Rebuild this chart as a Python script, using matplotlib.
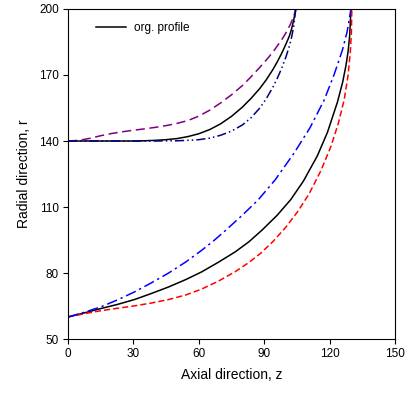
import numpy as np
import matplotlib
matplotlib.use('Agg')
import matplotlib.pyplot as plt

plt.rcParams['font.family'] = ['Liberation Sans', 'DejaVu Sans']

# profiles (z = axial, r = radial)
# upper group, starting at r = 140
org_up_z = [0, 10, 20, 30, 35, 40, 45, 50, 55, 60, 65, 70, 75, 80, 84, 88, 91, 94, 96, 98, 100, 101.5, 102.5, 103.5, 104.5]
org_up_r = [140, 140, 140, 140, 140.1, 140.3, 140.6, 141.1, 142, 143.3, 145.2, 147.8, 151.2, 155.4, 159.4, 163.9, 167.9, 172.5, 176, 179.8, 184.1, 187.6, 190.7, 194.8, 200]

purple_up_z = [0, 5, 10, 15, 20, 25, 30, 35, 40, 45, 50, 55, 60, 65, 70, 75, 80, 84, 88, 92, 95, 98, 100, 102, 103.5, 104.5]
purple_up_r = [140, 140.3, 141.2, 142.4, 143.4, 144.2, 144.9, 145.5, 146.2, 147, 148, 149.3, 151.3, 154, 157.3, 161, 165.2, 169.2, 173.5, 178, 181.8, 186, 189.2, 193, 196.5, 200]

navy_up_z = [0, 20, 40, 50, 55, 60, 65, 70, 75, 80, 84, 88, 91, 94, 96, 98, 100, 101.5, 102.5, 103.5, 104.5]
navy_up_r = [140, 140, 140, 140.1, 140.3, 140.6, 141.3, 142.6, 144.5, 147.3, 150.6, 155, 159.3, 164.5, 168.5, 173, 178.3, 183, 186.8, 192, 200]

# lower group, starting at r = 60
org_lo_z = [0, 8, 15.3, 23, 30.7, 38, 46, 54, 61.3, 69, 76.7, 83, 89, 96, 102.2, 108, 114.4, 119, 123.6, 126, 127.5, 128.5, 129.2, 129.8]
org_lo_r = [60, 62, 63.9, 65.8, 68, 70.6, 73.6, 77, 80.5, 84.9, 89.6, 94.2, 99.5, 106.3, 113.4, 121.8, 133.3, 143.9, 157.7, 166.8, 174.3, 180.8, 187.8, 200]

red_lo_z = [0, 8, 15.3, 23, 30.7, 38, 46, 54, 61.3, 69, 76.7, 83, 88.4, 94, 100, 105.5, 110.6, 116, 120.6, 124, 126.7, 128.4, 129.5, 130, 130.2]
red_lo_r = [60, 61.6, 62.9, 64, 65.1, 66.3, 67.9, 70, 72.7, 76.3, 80.6, 84.8, 89, 94.3, 100.9, 108.1, 116, 126.5, 137.5, 148, 158.8, 169.3, 180.3, 189.3, 200]

blue_lo_z = [0, 8, 15.3, 23, 30.7, 38, 46, 54, 61.3, 67, 72.1, 80, 87.2, 95, 103.7, 111, 117.5, 122, 125.9, 128, 129.8]
blue_lo_r = [60, 62.3, 64.7, 67.9, 71.5, 75.4, 79.9, 85, 90.3, 94.8, 99.2, 106.3, 113.2, 122.3, 134.5, 146, 158.6, 170, 181.4, 189.5, 200]

fig = plt.figure(figsize=(4.06, 3.95), dpi=100)
ax = fig.add_axes([68/406, 56/395, 327/406, 330/395])

ax.plot(org_up_z, org_up_r, color='black', lw=1.1, label='org. profile')
ax.plot(purple_up_z, purple_up_r, color='#800080', lw=1.1, dashes=(6, 3))
ax.plot(navy_up_z, navy_up_r, color='#000080', lw=1.1, dashes=(6, 2, 1, 2, 1, 2))
ax.plot(org_lo_z, org_lo_r, color='black', lw=1.1)
ax.plot(red_lo_z, red_lo_r, color='red', lw=1.1, dashes=(4, 2))
ax.plot(blue_lo_z, blue_lo_r, color='blue', lw=1.1, dashes=(7, 2.5, 1.5, 2.5))

ax.set_xlim(0, 150)
ax.set_ylim(50, 200)
ax.set_xticks([0, 30, 60, 90, 120, 150])
ax.set_yticks([50, 80, 110, 140, 170, 200])
ax.tick_params(direction='out', length=3.5, width=0.8, labelsize=8.5, pad=3,
               top=False, right=False)
for s in ax.spines.values():
    s.set_linewidth(0.8)

ax.set_xlabel('Axial direction, z', fontsize=10, labelpad=6)
ax.set_ylabel('Radial direction, r', fontsize=10, labelpad=6)

ax.legend(loc='center left', bbox_to_anchor=(28/327, 1 - 19/330), frameon=False,
          fontsize=8.5, borderpad=0, borderaxespad=0, handlelength=2.5,
          handletextpad=0.7)

fig.savefig('out.png', dpi=100)
